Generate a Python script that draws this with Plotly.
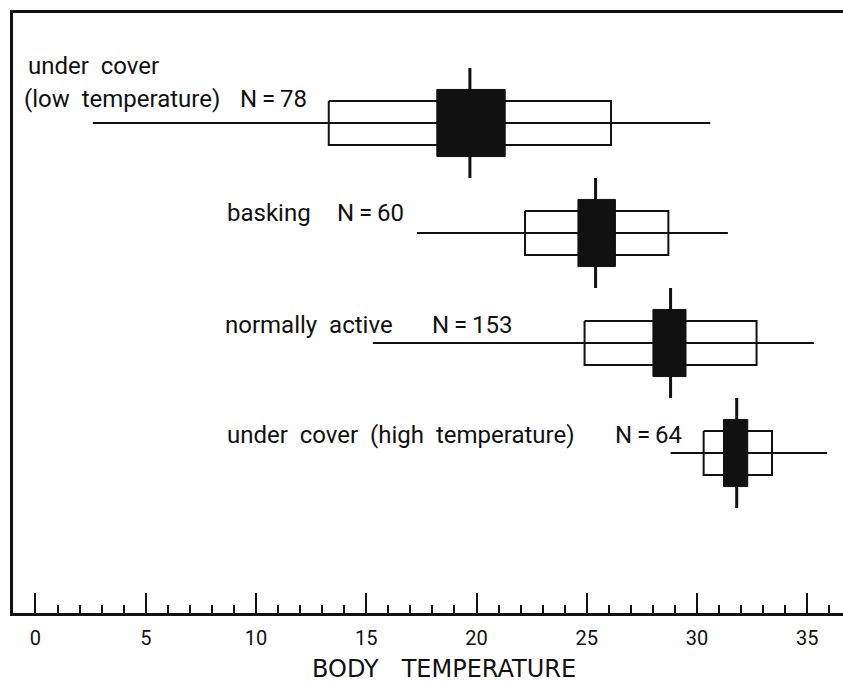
import plotly.graph_objects as go

# ---- data ----
groups = ["under cover", "basking", "normally active", "under cover (high temperature)"]
n_values = [78, 60, 153, 64]
range_min = [2.6, 17.3, 15.3, 28.8]
range_max = [30.6, 31.4, 35.3, 35.9]
sd_low = [13.3, 22.2, 24.9, 30.3]
sd_high = [26.1, 28.7, 32.7, 33.4]
se_low = [18.2, 24.6, 28.0, 31.2]
se_high = [21.3, 26.3, 29.5, 32.3]
means = [19.7, 25.4, 28.8, 31.8]
tick_values = [0, 5, 10, 15, 20, 25, 30, 35]
tick_labels = ["0", "5", "10", "15", "20", "25", "30", "35"]

# ---- styling ----
INK = "#111111"
FONT = "Roboto"
SD_HALF = 0.2
SE_HALF = 0.305
MEAN_HALF = 0.5
NB2 = "\u00a0\u00a0"

fig = go.Figure()

for i in range(len(groups)):
    fig.add_trace(go.Scatter(x=[range_min[i], range_max[i]], y=[i, i], mode="lines",
                             line=dict(color=INK, width=2), hoverinfo="skip", showlegend=False))
    fig.add_trace(go.Scatter(x=[sd_low[i], sd_high[i], sd_high[i], sd_low[i], sd_low[i]],
                             y=[i - SD_HALF, i - SD_HALF, i + SD_HALF, i + SD_HALF, i - SD_HALF],
                             mode="lines", line=dict(color=INK, width=2),
                             hoverinfo="skip", showlegend=False))
    fig.add_trace(go.Scatter(x=[se_low[i], se_high[i], se_high[i], se_low[i], se_low[i]],
                             y=[i - SE_HALF, i - SE_HALF, i + SE_HALF, i + SE_HALF, i - SE_HALF],
                             mode="lines", fill="toself", fillcolor=INK,
                             line=dict(color=INK, width=1),
                             hoverinfo="skip", showlegend=False))
    fig.add_trace(go.Scatter(x=[means[i], means[i]], y=[i - MEAN_HALF, i + MEAN_HALF],
                             mode="lines", line=dict(color=INK, width=3),
                             hoverinfo="skip", showlegend=False))

lab_font = dict(family=FONT, size=24, color=INK)
annots = []
label_pos = [(-0.43, -0.52, "under cover"),
             (-0.61, -0.22, "(low temperature)"),
             (8.6, 0.82, groups[1]),
             (8.5, 1.84, groups[2]),
             (8.6, 2.84, groups[3])]
for x, y, t in label_pos:
    annots.append(dict(x=x, y=y, xref="x", yref="y", text=t.replace(" ", NB2), showarrow=False,
                       xanchor="left", yanchor="middle", font=lab_font))
n_pos = [(9.2, -0.22), (13.6, 0.82), (17.9, 1.84), (26.2, 2.84)]
for (x, y), nv in zip(n_pos, n_values):
    annots.append(dict(x=x, y=y, xref="x", yref="y", text=f"N\u2009=\u2009{nv}", showarrow=False,
                       xanchor="left", yanchor="middle", font=lab_font))
annots.append(dict(x=0.5187, y=-0.093, xref="paper", yref="paper",
                   text="BODY\u00a0\u00a0\u00a0TEMPERATURE", showarrow=False,
                   xanchor="center", yanchor="middle",
                   font=dict(family="DejaVu Sans", size=24, color=INK)))

fig.update_layout(
    width=843, height=684,
    margin=dict(l=13, r=0, t=13, b=71),
    paper_bgcolor="white", plot_bgcolor="white",
    showlegend=False,
    annotations=annots,
    xaxis=dict(range=[-1.02, 36.62], showgrid=False, zeroline=False,
               showline=True, linecolor=INK, linewidth=3, mirror=True,
               ticks="inside", ticklen=20, tickwidth=2, tickcolor=INK,
               tickvals=tick_values, ticktext=tick_labels,
               tickfont=dict(family=FONT, size=20, color=INK),
               ticklabelstandoff=5,
               minor=dict(dtick=1, tick0=0, ticks="inside", ticklen=8,
                          tickwidth=2, tickcolor=INK, showgrid=False)),
    yaxis=dict(range=[4.4545, -1.0], showgrid=False, zeroline=False,
               showline=True, linecolor=INK, linewidth=3,
               showticklabels=False, ticks=""),
)

fig.write_html("out.html")
